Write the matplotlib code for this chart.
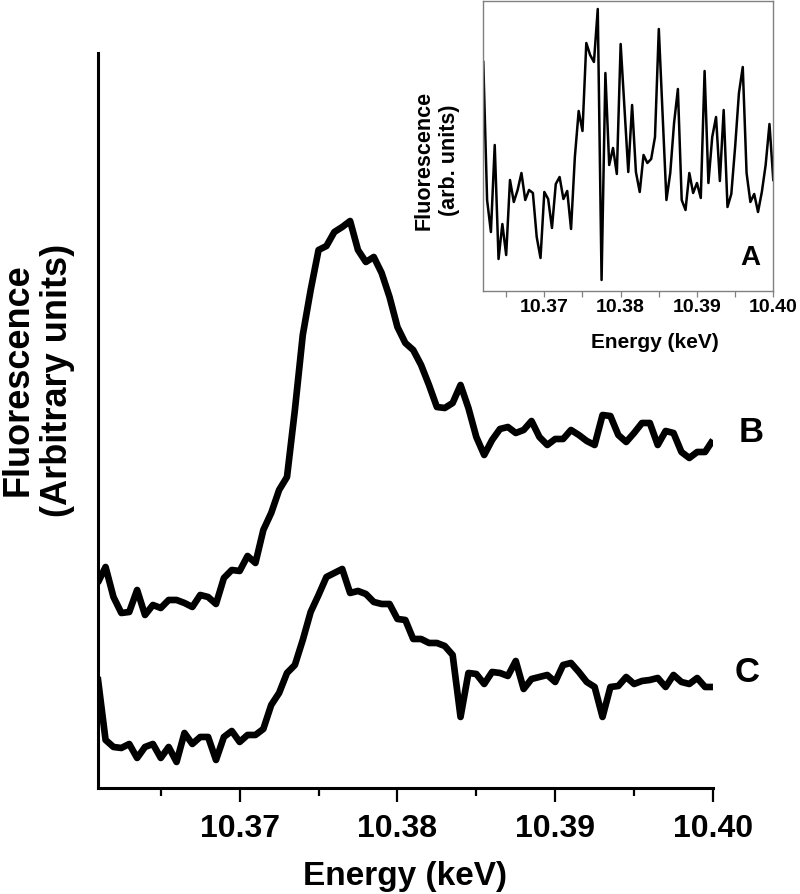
import matplotlib
matplotlib.use('Agg')
import matplotlib.pyplot as plt

plt.rcParams['font.family'] = ['Liberation Sans', 'DejaVu Sans']
plt.rcParams['font.weight'] = 'bold'

# ---------------- data ----------------
energy = [10.3610, 10.3615, 10.3620, 10.3625, 10.3630, 10.3635, 10.3640, 10.3645, 10.3650, 10.3655,
          10.3660, 10.3665, 10.3670, 10.3675, 10.3680, 10.3685, 10.3690, 10.3695, 10.3700, 10.3705,
          10.3710, 10.3715, 10.3720, 10.3725, 10.3730, 10.3735, 10.3740, 10.3745, 10.3750, 10.3755,
          10.3760, 10.3765, 10.3770, 10.3775, 10.3780, 10.3785, 10.3790, 10.3795, 10.3800, 10.3805,
          10.3810, 10.3815, 10.3820, 10.3825, 10.3830, 10.3835, 10.3840, 10.3845, 10.3850, 10.3855,
          10.3860, 10.3865, 10.3870, 10.3875, 10.3880, 10.3885, 10.3890, 10.3895, 10.3900, 10.3905,
          10.3910, 10.3915, 10.3920, 10.3925, 10.3930, 10.3935, 10.3940, 10.3945, 10.3950, 10.3955,
          10.3960, 10.3965, 10.3970, 10.3975, 10.3980, 10.3985, 10.3990, 10.3995, 10.4000]

spectrum_B = [205, 221, 191, 175, 176, 198, 173, 183, 180, 188,
              188, 185, 181, 193, 191, 184, 210, 218, 217, 232,
              225, 258, 275, 298, 311, 378, 453, 498, 538, 542,
              556, 561, 567, 538, 526, 531, 515, 491, 461, 445,
              438, 423, 403, 381, 380, 385, 403, 380, 351, 333,
              348, 359, 361, 355, 358, 367, 351, 343, 349, 349,
              358, 353, 347, 343, 373, 372, 353, 346, 355, 365,
              365, 343, 357, 355, 336, 330, 336, 336, 348]

spectrum_C = [111, 48, 41, 40, 44, 30, 41, 44, 30, 41,
              26, 55, 44, 51, 51, 28, 51, 57, 46, 53,
              53, 59, 83, 95, 115, 123, 148, 176, 193, 211,
              215, 219, 195, 197, 194, 186, 184, 184, 169, 168,
              149, 149, 145, 145, 142, 133, 71, 115, 114, 104,
              116, 115, 112, 127, 99, 109, 111, 113, 106, 123,
              125, 116, 106, 101, 71, 101, 102, 111, 104, 107,
              108, 110, 101, 113, 106, 104, 110, 101, 101]

energy_A = energy[2:]
spectrum_A = [229, 91, 59, 146, 32, 67, 36, 111, 89, 101,
              118, 91, 101, 98, 54, 33, 99, 92, 63, 107,
              114, 92, 100, 62, 134, 180, 160, 248, 236, 229,
              282, 11, 218, 126, 143, 117, 247, 183, 119, 186,
              119, 99, 136, 128, 132, 154, 262, 176, 91, 118,
              168, 202, 91, 81, 118, 98, 108, 93, 220, 108,
              154, 174, 110, 181, 84, 97, 144, 198, 224, 118,
              89, 97, 79, 99, 126, 167, 111]

major_ticks = [10.37, 10.38, 10.39, 10.40]
major_labels = ['10.37', '10.38', '10.39', '10.40']
minor_ticks = [10.365, 10.375, 10.385, 10.395]

# ---------------- figure ----------------
fig = plt.figure(figsize=(8, 8.94), dpi=100)

ax = fig.add_axes([0.1221, 0.1186, 0.7691, 0.8221])
ax.plot(energy, spectrum_B, color='black', lw=4.8, solid_joinstyle='round', solid_capstyle='butt')
ax.plot(energy, spectrum_C, color='black', lw=4.8, solid_joinstyle='round', solid_capstyle='butt')
ax.set_xlim(10.361, 10.400)
ax.set_ylim(0, 735)
for s in ['top', 'right']:
    ax.spines[s].set_visible(False)
for s in ['left', 'bottom']:
    ax.spines[s].set_linewidth(2.2)
ax.set_yticks([])
ax.set_xticks(major_ticks)
ax.set_xticklabels(major_labels, fontsize=23, fontweight='bold')
ax.set_xticks(minor_ticks, minor=True)
ax.tick_params(axis='x', which='major', length=10, width=1.6, direction='out', pad=9)
ax.tick_params(axis='x', which='minor', length=6, width=1.6, direction='out')
ax.set_xlabel('Energy (keV)', fontsize=24, fontweight='bold', labelpad=12)

fig.text(38 / 800, 1 - 380 / 894, 'Fluorescence\n(Arbitrary units)', rotation=90,
         ha='center', va='center', multialignment='center', fontsize=26, fontweight='bold',
         linespacing=1.15)

fig.text(751 / 800, 1 - 432 / 894, 'B', ha='center', va='center', fontsize=25, fontweight='bold')
fig.text(747 / 800, 1 - 672 / 894, 'C', ha='center', va='center', fontsize=25, fontweight='bold')

# ---------------- inset ----------------
gray = '#808080'
axin = fig.add_axes([0.6041, 0.6745, 0.3625, 0.3244])
axin.plot(energy_A, spectrum_A, color='black', lw=1.8)
axin.set_xlim(10.362, 10.400)
axin.set_ylim(0, 290)
for s in axin.spines.values():
    s.set_color(gray)
    s.set_linewidth(1.0)
axin.set_yticks([])
axin.set_xticks(major_ticks)
axin.set_xticklabels(major_labels, fontsize=14, fontweight='bold')
axin.set_xticks(minor_ticks, minor=True)
axin.tick_params(axis='x', which='both', length=4, width=0.9, color=gray, direction='out', pad=2)
axin.set_xlabel('Energy (keV)', fontsize=15, fontweight='bold')
axin.xaxis.set_label_coords((655 - 483.3) / 290, -(343 - 291) / 290)
axin.xaxis.label.set_va('center')
axin.text(0.92, 0.115, 'A', transform=axin.transAxes, ha='center', va='center',
          fontsize=20, fontweight='bold')

fig.text(437 / 800, 1 - 160 / 894, 'Fluorescence\n(arb. units)', rotation=90,
         ha='center', va='center', multialignment='center', fontsize=15.5, fontweight='bold',
         linespacing=1.3)

fig.savefig('out.png', dpi=100)
